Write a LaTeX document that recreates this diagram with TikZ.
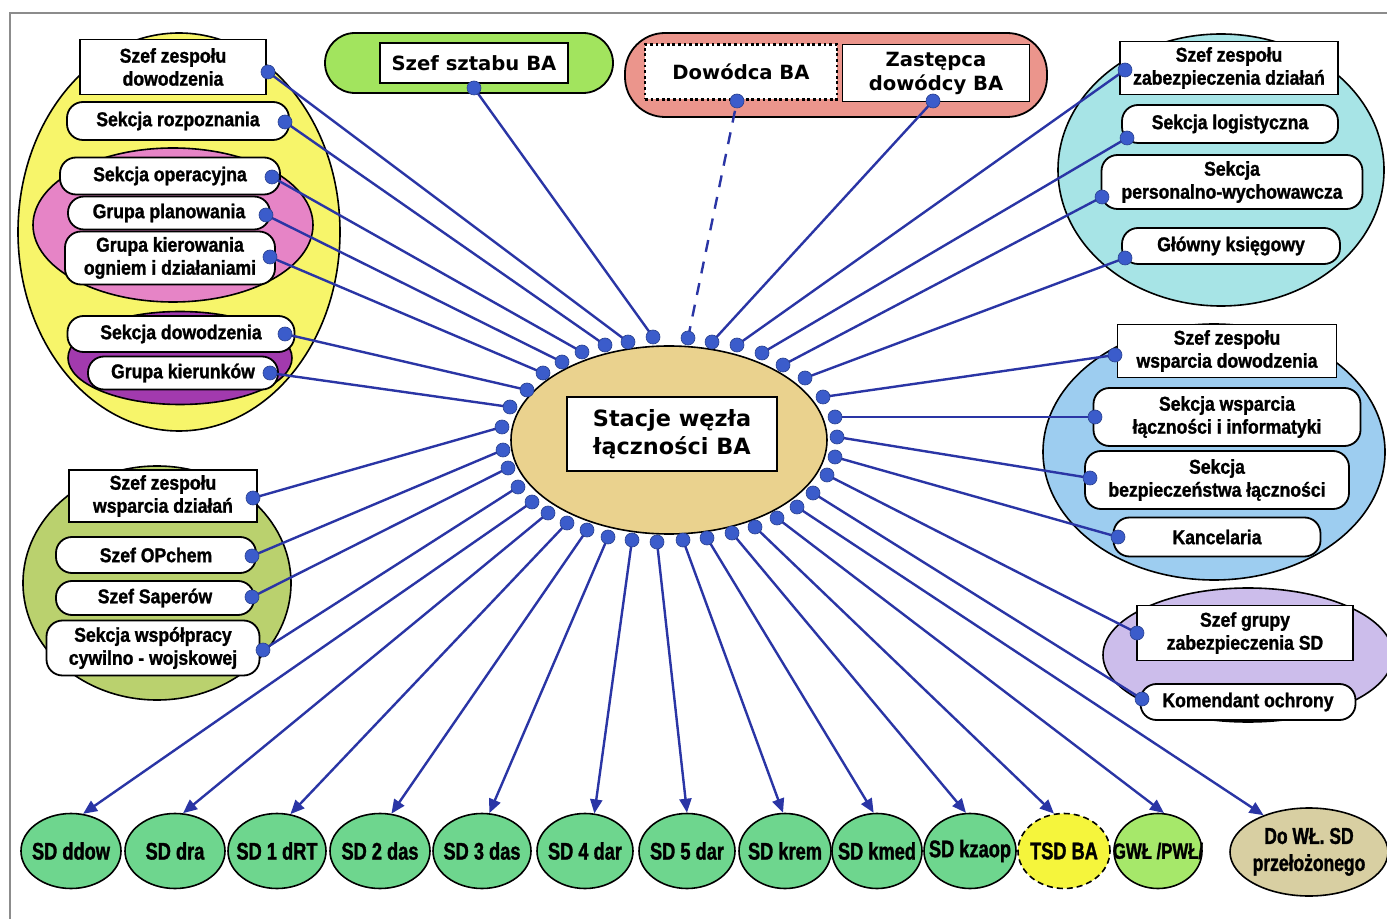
\documentclass[tikz,border=0pt]{standalone}
\usepackage{fontspec}
\usetikzlibrary{shapes.geometric,arrows.meta}
\newfontfamily\bmpfam{Liberation Sans Bold}[FakeStretch=0.88,FakeBold=1.3]
\newfontfamily\sdfam{Liberation Sans Bold}[FakeStretch=0.76,FakeBold=1.3]
\newfontfamily\widefam{DejaVu Sans Bold}
\newcommand\bmpf{\bmpfam\fontsize{10}{11.5}\selectfont}
\newcommand\sdf{\sdfam\fontsize{12}{13}\selectfont}
\newcommand\sdfs{\sdfam\fontsize{11}{13}\selectfont}
\newcommand\sdfb{\sdfam\fontsize{11.5}{13.5}\selectfont}
\newcommand\widef{\widefam\fontsize{9.8}{12}\selectfont}
\newcommand\titlef{\widefam\fontsize{11.2}{14}\selectfont}
\definecolor{yellowG}{HTML}{F7F56A}
\definecolor{pinkG}{HTML}{E684C6}
\definecolor{purpleG}{HTML}{A23AAE}
\definecolor{greenTop}{HTML}{A2E45E}
\definecolor{redTop}{HTML}{EB958C}
\definecolor{cyanG}{HTML}{A7E4E6}
\definecolor{blueG}{HTML}{9DCDF0}
\definecolor{lavG}{HTML}{CCBDEB}
\definecolor{oliveG}{HTML}{BAD16E}
\definecolor{centerFill}{HTML}{EAD28E}
\definecolor{sdGreen}{HTML}{6ED68E}
\definecolor{tsdYellow}{HTML}{F5F53C}
\definecolor{gwlGreen}{HTML}{A6E86A}
\definecolor{dowlKhaki}{HTML}{D8CFA2}
\definecolor{linkBlue}{HTML}{2A35A5}
\definecolor{dotBlue}{HTML}{3B5CCB}
\begin{document}
\begin{tikzpicture}[x=0.5pt,y=-0.5pt,
  grp/.style={ellipse, draw=black, line width=0.8pt, inner sep=0pt},
  toppill/.style={rectangle, draw=black, line width=0.9pt, inner sep=0pt},
  box/.style={rectangle, draw=black, fill=white, line width=0.9pt, align=center, inner sep=0pt, font=\bmpf},
  pill/.style={rectangle, rounded corners=8pt, draw=black, fill=white, line width=0.9pt, align=center, inner sep=0pt, font=\bmpf},
  sd/.style={ellipse, draw=black, line width=0.8pt, fill=sdGreen, inner sep=0pt, minimum height=37.5pt, font=\sdf},
  link/.style={draw=linkBlue, line width=1.2pt},
  tip/.style={-{Triangle[length=7pt,width=6pt]}},
  dot/.style={circle, fill=dotBlue, draw=dotBlue!70!black, line width=0.3pt, inner sep=0pt, minimum size=7pt}]
\useasboundingbox (0,0) rectangle (1387,919);
\fill[white] (0,0) rectangle (1387,919);
\draw[black!45, line width=0.8pt] (10,919) -- (10,13) -- (1387,13);

% group backgrounds
\node[grp, fill=yellowG, minimum width=161pt, minimum height=199pt] (gY) at (179,232) {};
\node[grp, fill=pinkG, minimum width=140pt, minimum height=77pt] (gP) at (173,225) {};
\node[grp, fill=purpleG, minimum width=112pt, minimum height=46.5pt] (gV) at (180,358) {};
\node[grp, fill=oliveG, minimum width=134pt, minimum height=117pt] (gO) at (157,583) {};
\node[grp, fill=cyanG, minimum width=163pt, minimum height=136pt] (gC) at (1221,170) {};
\node[grp, fill=blueG, minimum width=171pt, minimum height=128pt] (gB) at (1214,452) {};
\node[grp, fill=lavG, minimum width=145pt, minimum height=67pt] (gL) at (1248,655) {};
\node[toppill, fill=greenTop, rounded corners=15pt, minimum width=144pt, minimum height=30pt] (pG) at (469,63) {};
\node[toppill, fill=redTop, rounded corners=20pt, minimum width=211pt, minimum height=42pt] (pR) at (836,75) {};

% left-top group
\node[box, minimum width=93pt, minimum height=27.5pt] (szd) at (173,67) {Szef zespołu\\dowodzenia};
\node[pill, minimum width=111pt, minimum height=19pt] (sroz) at (178,121) {Sekcja rozpoznania};
\node[pill, minimum width=110pt, minimum height=18.5pt] (sop) at (170,176) {Sekcja operacyjna};
\node[pill, minimum width=101pt, minimum height=16.5pt] (gpl) at (169,213) {Grupa planowania};
\node[pill, minimum width=105pt, minimum height=26.5pt] (gkier) at (170,258) {Grupa kierowania\\ogniem i działaniami};
\node[pill, minimum width=113.5pt, minimum height=18pt] (sdow) at (181,334) {Sekcja dowodzenia};
\node[pill, minimum width=95pt, minimum height=16.5pt] (gkr) at (183,373) {Grupa kierunków};

% top
\node[box, font=\widef, minimum width=94pt, minimum height=20pt] (szt) at (474,63) {Szef sztabu BA};
\node[box, font=\widef, dash pattern=on 1.4pt off 1.4pt, line width=1.3pt, minimum width=96pt, minimum height=27.5pt] (dowodca) at (741,72) {Dowódca BA};
\node[box, font=\widef, minimum width=93.5pt, minimum height=28.5pt] (zast) at (936,73) {Zastępca\\dowódcy BA};

% right-top group
\node[box, minimum width=109pt, minimum height=26.5pt] (szzd) at (1229,68) {Szef zespołu\\zabezpieczenia działań};
\node[pill, minimum width=108pt, minimum height=19pt] (slog) at (1230,124) {Sekcja logistyczna};
\node[pill, minimum width=130.5pt, minimum height=27pt] (spers) at (1232,182) {Sekcja\\personalno-wychowawcza};
\node[pill, minimum width=109pt, minimum height=18pt] (gks) at (1231,246) {Główny księgowy};

% right-middle group
\node[box, minimum width=109.5pt, minimum height=26.5pt] (swd) at (1227,351) {Szef zespołu\\wsparcia dowodzenia};
\node[pill, minimum width=133.5pt, minimum height=29pt] (swl) at (1227,417) {Sekcja wsparcia\\łączności i informatyki};
\node[pill, minimum width=132pt, minimum height=29pt] (sbl) at (1217,480) {Sekcja\\bezpieczeństwa łączności};
\node[pill, minimum width=103.5pt, minimum height=19.5pt] (kanc) at (1217,537) {Kancelaria};

% lavender group
\node[box, minimum width=108pt, minimum height=27.5pt] (szgr) at (1245,633) {Szef grupy\\zabezpieczenia SD};
\node[pill, minimum width=107.5pt, minimum height=18pt] (kom) at (1248,702) {Komendant ochrony};

% left-bottom group
\node[box, minimum width=94pt, minimum height=26pt] (szwd) at (163,496) {Szef zespołu\\wsparcia działań};
\node[pill, minimum width=100pt, minimum height=18pt] (opchem) at (156,555) {Szef OPchem};
\node[pill, minimum width=99pt, minimum height=17pt] (saper) at (155,598) {Szef Saperów};
\node[pill, minimum width=106.5pt, minimum height=27.5pt] (swsp) at (153,648) {Sekcja współpracy\\cywilno - wojskowej};

% hub
\node[grp, fill=centerFill, minimum width=158pt, minimum height=94pt] (hub) at (669,440) {};
\node[box, font=\titlef, minimum width=105pt, minimum height=37pt] (title) at (672,434) {Stacje węzła\\łączności BA};

% bottom stations
\node[sd, minimum width=50pt] (sd1) at (71,851) {\makebox[0pt]{SD ddow}};
\node[sd, minimum width=50pt] (sd2) at (175,851) {\makebox[0pt]{SD dra}};
\node[sd, minimum width=49pt] (sd3) at (277,851) {\makebox[0pt]{SD 1 dRT}};
\node[sd, minimum width=50pt] (sd4) at (380,851) {\makebox[0pt]{SD 2 das}};
\node[sd, minimum width=49pt] (sd5) at (482,851) {\makebox[0pt]{SD 3 das}};
\node[sd, minimum width=48pt] (sd6) at (585,851) {\makebox[0pt]{SD 4 dar}};
\node[sd, minimum width=48pt] (sd7) at (687,851) {\makebox[0pt]{SD 5 dar}};
\node[sd, minimum width=46pt] (sd8) at (785,851) {\makebox[0pt]{SD krem}};
\node[sd, minimum width=45pt] (sd9) at (877,851) {\makebox[0pt]{SD kmed}};
\node[sd, minimum width=46pt] (sd10) at (970,851) {\makebox[0pt]{SD kzaop}};
\node[sd, fill=tsdYellow, dash pattern=on 3pt off 2pt, minimum width=46pt] (tsd) at (1064,851) {\makebox[0pt]{TSD BA}};
\node[sd, fill=gwlGreen, minimum width=44pt, font=\sdfs] (gwl) at (1158,851) {\makebox[0pt]{GWŁ /PWŁ/}};
\node[sd, fill=dowlKhaki, minimum width=79pt, minimum height=44pt, font=\sdfb] (dowl) at (1309,852) {\makebox[0pt]{\begin{tabular}{@{}c@{}}Do WŁ. SD\\przełożonego\end{tabular}}};

% hub dots
\coordinate (c1) at (628,342);
\coordinate (c2) at (605,345);
\coordinate (c3) at (582,352);
\coordinate (c4) at (562,362);
\coordinate (c5) at (543,373);
\coordinate (c6) at (527,390);
\coordinate (c7) at (510,407);
\coordinate (c8) at (502,427);
\coordinate (c9) at (503,450);
\coordinate (c10) at (508,468);
\coordinate (c11) at (518,487);
\coordinate (c12) at (532,502);
\coordinate (c13) at (548,513);
\coordinate (c14) at (567,523);
\coordinate (c15) at (587,530);
\coordinate (c16) at (608,537);
\coordinate (c17) at (632,540);
\coordinate (c18) at (657,542);
\coordinate (c19) at (683,540);
\coordinate (c20) at (707,538);
\coordinate (c21) at (732,533);
\coordinate (c22) at (755,527);
\coordinate (c23) at (777,518);
\coordinate (c24) at (797,507);
\coordinate (c25) at (813,493);
\coordinate (c26) at (827,475);
\coordinate (c27) at (835,457);
\coordinate (c28) at (837,437);
\coordinate (c29) at (835,417);
\coordinate (c30) at (823,397);
\coordinate (c31) at (805,378);
\coordinate (c32) at (783,365);
\coordinate (c33) at (762,353);
\coordinate (c34) at (737,345);
\coordinate (c35) at (712,342);
\coordinate (c36) at (688,338);
\coordinate (c37) at (653,337);

% target dots
\coordinate (t1) at (268,72);
\coordinate (t2) at (285,122);
\coordinate (t3) at (272,177);
\coordinate (t4) at (266,215);
\coordinate (t5) at (270,257);
\coordinate (t6) at (285,334);
\coordinate (t7) at (270,373);
\coordinate (t8) at (253,498);
\coordinate (t9) at (252,556);
\coordinate (t10) at (252,597);
\coordinate (t11) at (263,650);
\coordinate (t25) at (1142,699);
\coordinate (t26) at (1137,633);
\coordinate (t27) at (1118,537);
\coordinate (t28) at (1090,478);
\coordinate (t29) at (1095,417);
\coordinate (t30) at (1115,355);
\coordinate (t31) at (1125,258);
\coordinate (t32) at (1102,197);
\coordinate (t33) at (1127,138);
\coordinate (t34) at (1125,70);
\coordinate (t35) at (933,101);
\coordinate (t36) at (737,101);
\coordinate (t37) at (474,88);

% connectors
\foreach \i in {1,...,11} \draw[link] (c\i) -- (t\i);
\foreach \i in {25,...,35,37} \draw[link] (c\i) -- (t\i);
\draw[link, dash pattern=on 6pt off 5pt] (c36) -- (t36);
\foreach \a/\b in {12/sd1.72, 13/sd2.78, 14/sd3.70, 15/sd4.73, 16/sd5.79, 17/sd6.76, 18/sd7.90, 19/sd8.93, 20/sd9.95, 21/sd10.96, 22/tsd.105, 23/gwl.81, 24/dowl.141}
  \draw[link, tip] (c\a) -- (\b);

% dots
\foreach \i in {1,...,37} \node[dot] at (c\i) {};
\foreach \i in {1,...,11} \node[dot] at (t\i) {};
\foreach \i in {25,...,37} \node[dot] at (t\i) {};
\end{tikzpicture}
\end{document}
